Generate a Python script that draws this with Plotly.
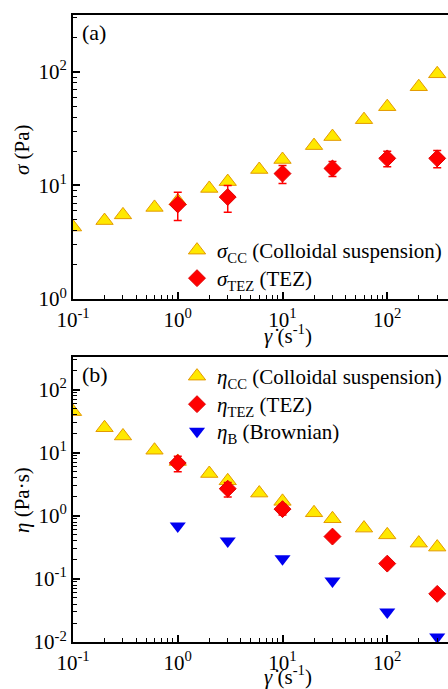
import plotly.graph_objects as go

# ---------------- data ----------------
rate_cc = [0.1, 0.2, 0.3, 0.6, 1, 2, 3, 6, 10, 20, 30, 60, 100, 200, 300]
sigma_cc = [4.3, 4.9, 5.5, 6.4, 7.3, 9.4, 10.8, 13.8, 16.9, 22.4, 26.9, 37.9, 49.3, 73.9, 96]
eta_cc = [45, 25, 18.5, 11.0, 7.3, 4.7, 3.6, 2.3, 1.7, 1.12, 0.9, 0.64, 0.5, 0.37, 0.32]

rate_tez = [1, 3, 10, 30, 100, 300]
sigma_tez = [6.8, 7.9, 12.7, 14.1, 17.3, 17.3]
sigma_tez_err = [1.9, 2.1, 2.3, 2.1, 2.7, 3.0]
eta_tez = [6.9, 2.7, 1.28, 0.47, 0.175, 0.058]
eta_tez_err = [1.9, 0.7, 0.25, 0.05, 0.02, 0.006]

rate_b = [1, 3, 10, 30, 100, 300]
eta_b = [0.69, 0.40, 0.21, 0.093, 0.030, 0.012]

x_ticks = [0.1, 1, 10, 100]
x_ticktext = ["10<sup>-1</sup>", "10<sup>0</sup>", "10<sup>1</sup>", "10<sup>2</sup>"]
ya_ticks = [1, 10, 100]
ya_ticktext = ["10<sup>0</sup>", "10<sup>1</sup>", "10<sup>2</sup>"]
yb_ticks = [0.01, 0.1, 1, 10, 100]
yb_ticktext = ["10<sup>-2</sup>", "10<sup>-1</sup>", "10<sup>0</sup>", "10<sup>1</sup>", "10<sup>2</sup>"]

def minors(decades):
    return [m * d for d in decades for m in range(2, 10)]

x_minor = minors([0.1, 1, 10, 100])
ya_minor = minors([1, 10, 100])
yb_minor = minors([0.01, 0.1, 1, 10, 100])

# ---------------- style ----------------
FONT = "Liberation Serif, Times New Roman, Times, serif"
YEL = "#FFE800"
YEL_EDGE = "#E39A00"
RED = "#FF0000"
BLUE = "#0000F0"

fig = go.Figure()

# Panel (a)
fig.add_trace(go.Scatter(
    x=rate_cc, y=sigma_cc, mode="markers", xaxis="x", yaxis="y",
    name="<i>σ</i><sub>CC</sub> (Colloidal suspension)", legend="legend",
    marker=dict(symbol="triangle-up", size=15, color=YEL, line=dict(color=YEL_EDGE, width=1)),
))
fig.add_trace(go.Scatter(
    x=rate_tez, y=sigma_tez, mode="markers", xaxis="x", yaxis="y",
    name="<i>σ</i><sub>TEZ</sub> (TEZ)", legend="legend2",
    error_y=dict(type="data", array=sigma_tez_err, color=RED, thickness=1.5, width=4),
    marker=dict(symbol="diamond", size=13, color=RED, line=dict(color="#E00000", width=1)),
))

# Panel (b)
fig.add_trace(go.Scatter(
    x=rate_cc, y=eta_cc, mode="markers", xaxis="x2", yaxis="y2",
    name="<i>η</i><sub>CC</sub> (Colloidal suspension)", legend="legend3",
    marker=dict(symbol="triangle-up", size=15, color=YEL, line=dict(color=YEL_EDGE, width=1)),
))
fig.add_trace(go.Scatter(
    x=rate_tez, y=eta_tez, mode="markers", xaxis="x2", yaxis="y2",
    name="<i>η</i><sub>TEZ</sub> (TEZ)", legend="legend4",
    error_y=dict(type="data", array=eta_tez_err, color=RED, thickness=1.5, width=4),
    marker=dict(symbol="diamond", size=13, color=RED, line=dict(color="#E00000", width=1)),
))
fig.add_trace(go.Scatter(
    x=rate_b, y=eta_b, mode="markers", xaxis="x2", yaxis="y2",
    name="<i>η</i><sub>B</sub> (Brownian)", legend="legend5",
    marker=dict(symbol="triangle-down", size=14, color=BLUE, line=dict(color=BLUE, width=0)),
))

tickfont = dict(family=FONT, size=21, color="black")

def xaxis(anchor):
    return dict(
        type="log", range=[-1, 2.58], domain=[73 / 448, 1], anchor=anchor, automargin=False,
        showgrid=False, zeroline=False, showline=True, linecolor="black", linewidth=2,
        mirror=True, ticks="inside", ticklen=7, tickwidth=1.5, tickcolor="black",
        tickmode="array", tickvals=x_ticks, ticktext=x_ticktext, tickfont=tickfont,
        ticklabelstandoff=1,
        minor=dict(ticks="inside", ticklen=4, tickwidth=1.2, tickcolor="black",
                   tickmode="array", tickvals=x_minor),
    )

def yaxis(anchor, rng, dom, tv, tt, mv):
    return dict(
        type="log", range=rng, domain=dom, anchor=anchor, automargin=False,
        showgrid=False, zeroline=False, showline=True, linecolor="black", linewidth=2,
        mirror=False, ticks="inside", ticklen=7, tickwidth=1.5, tickcolor="black",
        tickmode="array", tickvals=tv, ticktext=tt, tickfont=tickfont,
        minor=dict(ticks="inside", ticklen=4, tickwidth=1.2, tickcolor="black",
                   tickmode="array", tickvals=mv),
    )

H = 689.0
W = 448.0
legfont = dict(family=FONT, size=21, color="black")

def leg(row_center):
    return dict(x=177 / W, y=1 - (row_center - 19) / H, xanchor="left", yanchor="top",
                bgcolor="rgba(0,0,0,0)", borderwidth=0, font=legfont)

fig.update_layout(
    width=448, height=689,
    margin=dict(l=0, r=0, t=0, b=0, autoexpand=False),
    paper_bgcolor="white", plot_bgcolor="white",
    font=dict(family=FONT, color="black"),
    xaxis=xaxis("y"),
    yaxis=yaxis("x", [0, 2.5], [1 - 299 / H, 1 - 15 / H], ya_ticks, ya_ticktext, ya_minor),
    xaxis2=xaxis("y2"),
    yaxis2=yaxis("x2", [-2, 2.52], [1 - 642 / H, 1 - 357 / H], yb_ticks, yb_ticktext, yb_minor),
    legend=leg(249),
    legend2=leg(277),
    legend3=leg(375),
    legend4=leg(403),
    legend5=leg(430),
    annotations=[
        dict(text="(a)", xref="paper", yref="paper", x=80 / W, y=1 - 33 / H,
             xanchor="left", yanchor="middle", showarrow=False,
             font=dict(family=FONT, size=22, color="black")),
        dict(text="(b)", xref="paper", yref="paper", x=80 / W, y=1 - 374 / H,
             xanchor="left", yanchor="middle", showarrow=False,
             font=dict(family=FONT, size=22, color="black")),
        dict(text="<i>σ</i> (Pa)", xref="paper", yref="paper", x=22 / W, y=1 - 150 / H,
             xanchor="center", yanchor="middle", textangle=-90, showarrow=False,
             font=dict(family=FONT, size=21, color="black")),
        dict(text="<i>η</i> (Pa·s)", xref="paper", yref="paper", x=22 / W, y=1 - 500 / H,
             xanchor="center", yanchor="middle", textangle=-90, showarrow=False,
             font=dict(family=FONT, size=21, color="black")),
        dict(text="<i>γ̇</i> (s<sup>-1</sup>)", xref="x", yref="paper", x=1.05, y=1 - 334 / H,
             xanchor="center", yanchor="middle", showarrow=False,
             font=dict(family=FONT, size=21, color="black")),
        dict(text="<i>γ̇</i> (s<sup>-1</sup>)", xref="x2", yref="paper", x=1.05, y=1 - 675 / H,
             xanchor="center", yanchor="middle", showarrow=False,
             font=dict(family=FONT, size=21, color="black")),
    ],
    showlegend=True,
)

fig.write_html("out.html", config={"displayModeBar": False},
               post_script="document.body.style.margin='0';document.body.style.overflow='hidden';")
